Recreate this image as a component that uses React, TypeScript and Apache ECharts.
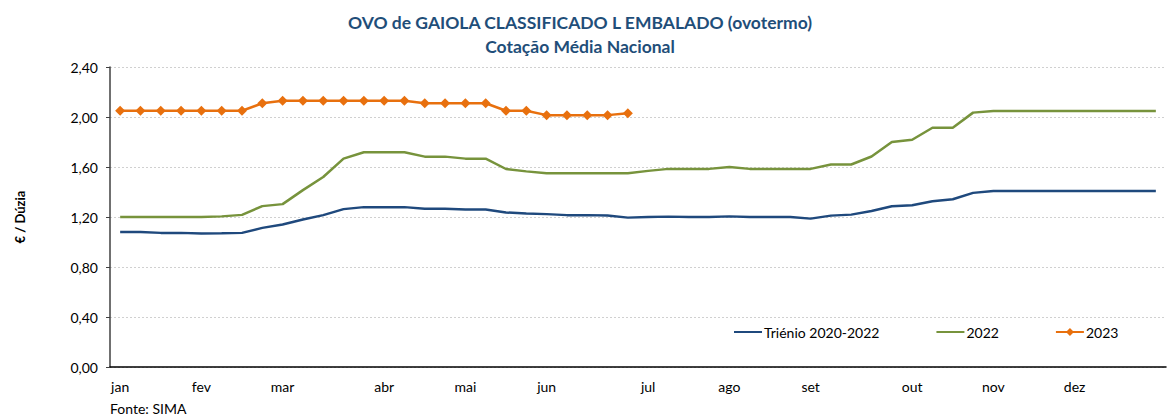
import React, { useEffect, useRef } from "react";
import * as echarts from "echarts";

const weeks: string[] = Array.from({ length: 52 }, (_, i) => `S${i + 1}`);

const monthLabels: { [week: number]: string } = {
  0: "jan", 4: "fev", 8: "mar", 13: "abr", 17: "mai", 21: "jun",
  26: "jul", 30: "ago", 34: "set", 39: "out", 43: "nov", 47: "dez",
};

const trienio: number[] = [
  1.08, 1.08, 1.073, 1.073, 1.068, 1.07, 1.073, 1.113, 1.14, 1.18,
  1.215, 1.263, 1.279, 1.279, 1.279, 1.266, 1.266, 1.26, 1.26, 1.236,
  1.228, 1.223, 1.215, 1.215, 1.212, 1.195, 1.2, 1.203, 1.2, 1.2,
  1.205, 1.2, 1.2, 1.2, 1.187, 1.211, 1.219, 1.248, 1.286, 1.294,
  1.326, 1.342, 1.393, 1.408, 1.408, 1.408, 1.408, 1.408, 1.408, 1.408,
  1.408, 1.408,
];

const y2022: number[] = [
  1.2, 1.2, 1.2, 1.2, 1.2, 1.205, 1.217, 1.287, 1.303, 1.415,
  1.52, 1.667, 1.718, 1.718, 1.718, 1.683, 1.683, 1.667, 1.667, 1.584,
  1.565, 1.55, 1.55, 1.55, 1.55, 1.55, 1.569, 1.585, 1.585, 1.585,
  1.6, 1.585, 1.585, 1.585, 1.585, 1.62, 1.62, 1.684, 1.8, 1.818,
  1.914, 1.914, 2.035, 2.048, 2.048, 2.048, 2.048, 2.048, 2.048, 2.048,
  2.048, 2.048,
];

const y2023: number[] = [
  2.05, 2.05, 2.05, 2.05, 2.05, 2.05, 2.05, 2.11, 2.13, 2.13,
  2.13, 2.13, 2.13, 2.13, 2.13, 2.11, 2.11, 2.11, 2.11, 2.05,
  2.05, 2.015, 2.015, 2.015, 2.015, 2.03,
];

const yTicks = { min: 0, max: 2.4, interval: 0.4 };

const FONT = "Lato, 'Open Sans', sans-serif";

export default function App() {
  const ref = useRef<HTMLDivElement>(null);

  useEffect(() => {
    document.body.style.margin = "0";
    if (!ref.current) return;
    const chart = echarts.init(ref.current, null, { renderer: "svg" });
    chart.setOption({
      animation: false,
      textStyle: { fontFamily: FONT },
      title: {
        text: "OVO de GAIOLA CLASSIFICADO L EMBALADO (ovotermo)\nCotação Média Nacional",
        left: 575,
        textAlign: "center",
        top: 5,
        textStyle: {
          fontFamily: FONT,
          fontSize: 17.5,
          fontWeight: "bold",
          color: "#1f4e79",
          lineHeight: 24,
        },
      },
      grid: { left: 110, right: 2, top: 67, bottom: 49 },
      legend: {
        left: 728,
        top: 320,
        itemWidth: 28,
        itemHeight: 10,
        itemGap: 56,
        textStyle: { fontFamily: FONT, fontSize: 14, color: "#000", padding: [0, 0, 0, -3] },
        data: [
          { name: "Triénio 2020-2022", itemStyle: { opacity: 0 } },
          { name: "2022", itemStyle: { opacity: 0 } },
          { name: "2023" },
        ],
      },
      graphic: [
        {
          type: "text",
          left: 110,
          top: 401,
          style: { text: "Fonte: SIMA", fontFamily: FONT, fontSize: 14, fill: "#000" },
        },
      ],
      xAxis: {
        type: "category",
        data: weeks,
        boundaryGap: true,
        axisLine: { lineStyle: { color: "#000", width: 1.5 } },
        axisTick: { interval: 0, length: 4, lineStyle: { color: "#000" } },
        axisLabel: {
          interval: 0,
          margin: 12,
          fontFamily: FONT,
          fontSize: 14,
          color: "#000",
          formatter: (_v: string, idx: number) => monthLabels[idx] || "",
        },
        splitLine: { show: false },
      },
      yAxis: {
        type: "value",
        min: yTicks.min,
        max: yTicks.max,
        interval: yTicks.interval,
        name: "€ / Dúzia",
        nameLocation: "middle",
        nameGap: 84,
        nameTextStyle: { fontFamily: FONT, fontSize: 13, fontWeight: "bold", color: "#000" },
        axisLine: { show: true, lineStyle: { color: "#404040", width: 1.5 } },
        axisTick: { show: true, length: 4, lineStyle: { color: "#404040" } },
        axisLabel: {
          margin: 12,
          fontFamily: FONT,
          fontSize: 14,
          color: "#000",
          formatter: (v: number) => v.toFixed(2).replace(".", ","),
        },
        splitLine: { lineStyle: { color: "#d0d0d0", type: [2, 2], width: 1 } },
      },
      series: [
        {
          name: "Triénio 2020-2022",
          type: "line",
          data: trienio,
          symbol: "none",
          lineStyle: { color: "#1f497d", width: 2.5 },
          itemStyle: { color: "#1f497d" },
        },
        {
          name: "2022",
          type: "line",
          data: y2022,
          symbol: "none",
          lineStyle: { color: "#77933c", width: 2.5 },
          itemStyle: { color: "#77933c" },
        },
        {
          name: "2023",
          type: "line",
          data: y2023,
          symbol: "diamond",
          symbolSize: 10,
          lineStyle: { color: "#e8700e", width: 2.5 },
          itemStyle: { color: "#e8700e" },
        },
      ],
    });
    return () => chart.dispose();
  }, []);

  return <div ref={ref} style={{ width: 1168, height: 416 }} />;
}
